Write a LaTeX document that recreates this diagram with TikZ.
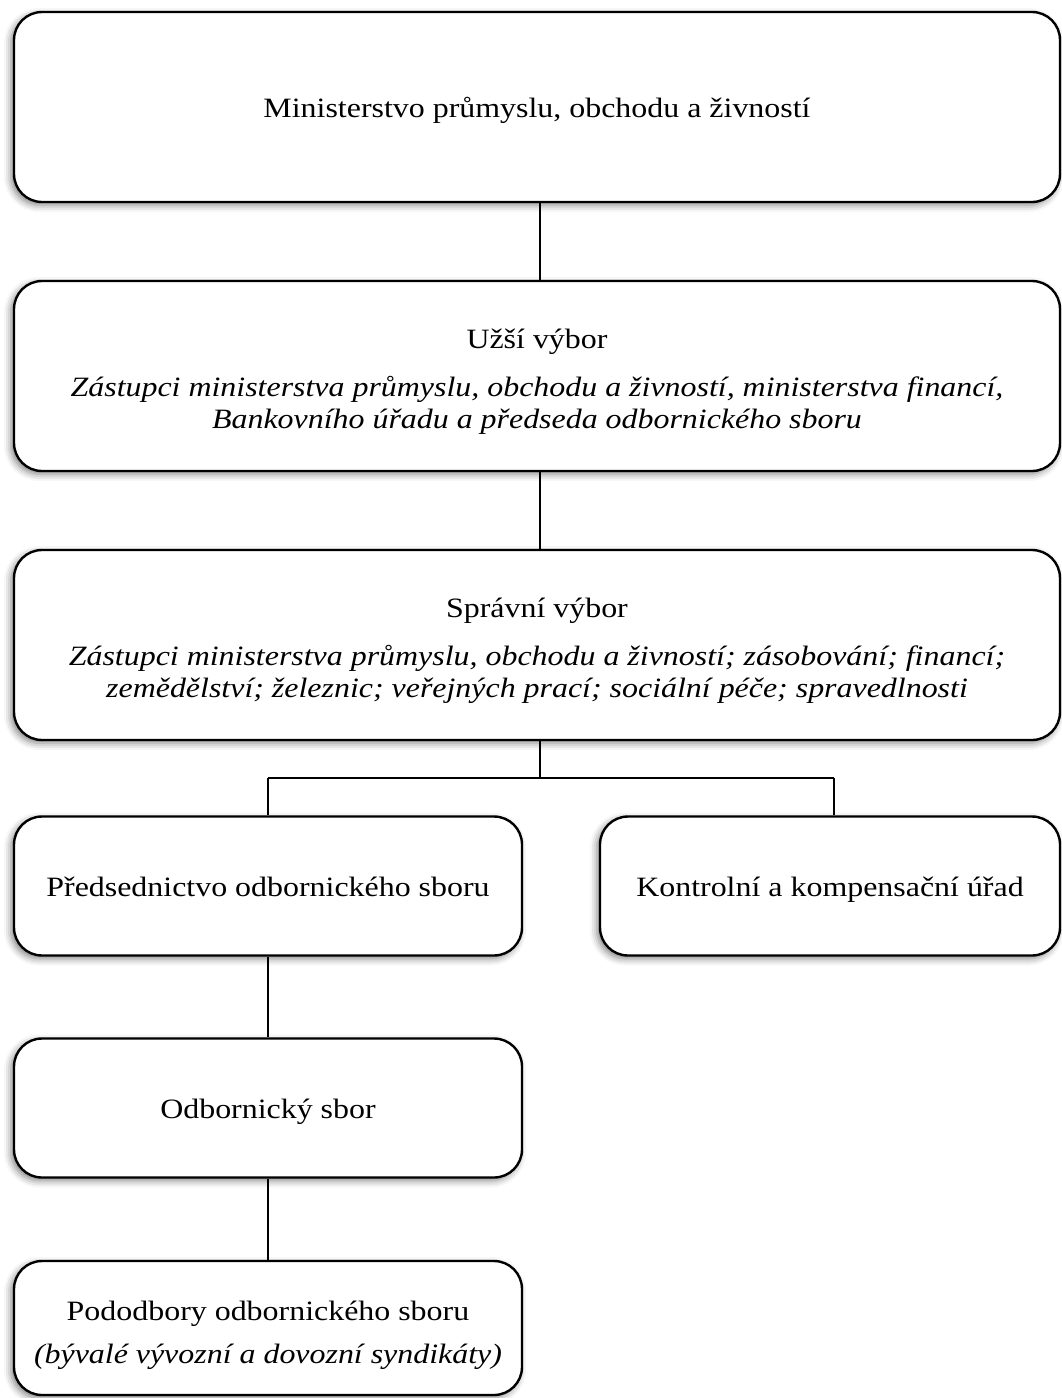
\documentclass[tikz,border=0pt]{standalone}
\usepackage{fontspec}
\setmainfont{Liberation Serif}[FakeStretch=1.14]
\usetikzlibrary{shadows.blur}
\newcommand{\toprule}[1]{\rule{0pt}{#1pt}}
\begin{document}
\begin{tikzpicture}[x=1pt,y=-1pt,
  box/.style={draw=black, line width=2.4pt, rounded corners=28pt, fill=white,
    blur shadow={shadow xshift=-3pt, shadow yshift=-3pt, shadow blur radius=7pt, shadow opacity=50},
    inner sep=0pt, align=center, font=\fontsize{28}{32}\selectfont},
  conn/.style={draw=black, line width=1.6pt}]
\useasboundingbox (0,0) rectangle (1062,1398);
\node[box, minimum width=1046pt, minimum height=190pt] (min) at (537,107)
  {\toprule{30.4}\strut Ministerstvo průmyslu, obchodu a živností};
\node[box, minimum width=1046pt, minimum height=190pt] (uzsi) at (537,376)
  {\toprule{33.6}Užší výbor\\[16pt]\itshape Zástupci ministerstva průmyslu, obchodu a živností, ministerstva financí,\\\itshape Bankovního úřadu a předseda odbornického sboru\strut};
\node[box, minimum width=1046pt, minimum height=190pt] (spr) at (537,645)
  {\toprule{33.6}Správní výbor\\[16pt]\itshape Zástupci ministerstva průmyslu, obchodu a živností; zásobování; financí;\\\itshape zemědělství; železnic; veřejných prací; sociální péče; spravedlnosti\strut};
\node[box, minimum width=508pt, minimum height=139pt] (pred) at (268,886)
  {\toprule{30.4}\strut Předsednictvo odbornického sboru};
\node[box, minimum width=460pt, minimum height=139pt] (kon) at (830,886)
  {\toprule{30.4}\strut Kontrolní a kompensační úřad};
\node[box, minimum width=508pt, minimum height=139pt] (odb) at (268,1108)
  {\toprule{30.4}\strut Odbornický sbor};
\node[box, minimum width=508pt, minimum height=134pt] (pod) at (268,1328)
  {\toprule{36.6}Pododbory odbornického sboru\\[11pt]\itshape (bývalé vývozní a dovozní syndikáty)\strut};
\coordinate (split) at (540,778);
\coordinate (kontop) at ([xshift=4pt]kon.north);
\draw[conn] (min.south -| split) -- (uzsi.north -| split);
\draw[conn] (uzsi.south -| split) -- (spr.north -| split);
\draw[conn] (spr.south -| split) -- (split);
\draw[conn] (split -| pred.north) -- (split -| kontop);
\draw[conn] (split -| pred.north) -- (pred.north);
\draw[conn] (split -| kontop) -- (kontop);
\draw[conn] (pred) -- (odb);
\draw[conn] (odb) -- (pod);
\end{tikzpicture}
\end{document}
